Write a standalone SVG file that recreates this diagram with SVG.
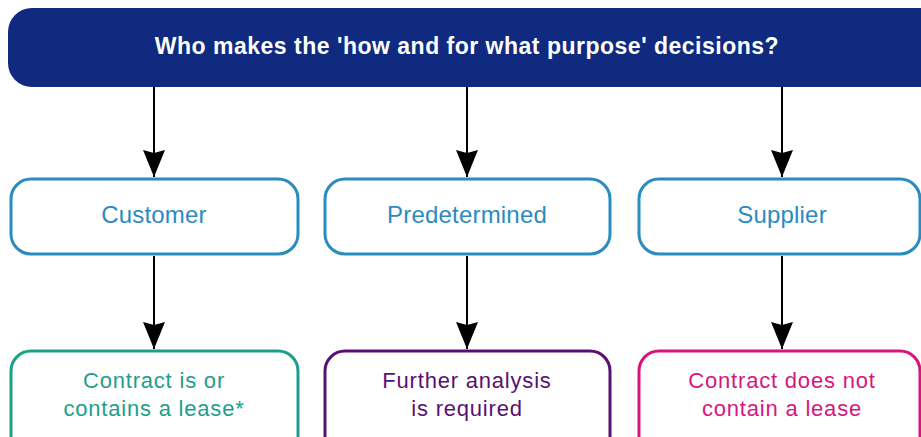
<svg xmlns="http://www.w3.org/2000/svg" width="921" height="437" viewBox="0 0 921 437">
<defs>
<marker id="ah" markerUnits="userSpaceOnUse" markerWidth="30" markerHeight="24" viewBox="-28 -12 30 24" refX="0" refY="0" orient="auto">
<path d="M0,0 L-27,-11 L-24,0 L-27,11 Z" fill="#000"/>
</marker>
<style>
.t{font-family:"Liberation Sans",Arial,sans-serif;text-anchor:middle}
.h{fill:#fff;font-weight:bold;font-size:23px;letter-spacing:0.5px}
.mid{fill:#fff;stroke:#2A8BC0;stroke-width:3}
.mt{fill:#2A8BC0;font-size:24px;letter-spacing:0.2px}
.bt{font-size:22px;letter-spacing:0.8px}
.c{stroke:#000;stroke-width:2;fill:none;marker-end:url(#ah)}
</style>
</defs>
<g id="title">
<rect x="8" y="8" width="940" height="79" rx="24" fill="#0F2A7F"/>
<text class="t h" x="467" y="54">Who makes the 'how and for what purpose' decisions?</text>
</g>
<g id="connectors">
<line class="c" x1="154" y1="87" x2="154" y2="177"/>
<line class="c" x1="467" y1="87" x2="467" y2="177"/>
<line class="c" x1="782" y1="87" x2="782" y2="177"/>
<line class="c" x1="154" y1="256" x2="154" y2="349"/>
<line class="c" x1="467" y1="256" x2="467" y2="349"/>
<line class="c" x1="782" y1="256" x2="782" y2="349"/>
</g>
<g id="customer">
<rect class="mid" x="11" y="179" width="287" height="75" rx="20"/>
<text class="t mt" x="154" y="223">Customer</text>
</g>
<g id="predetermined">
<rect class="mid" x="325" y="179" width="285" height="75" rx="20"/>
<text class="t mt" x="467" y="223">Predetermined</text>
</g>
<g id="supplier">
<rect class="mid" x="639" y="179" width="281" height="75" rx="20"/>
<text class="t mt" x="782" y="223">Supplier</text>
</g>
<g id="lease">
<rect x="11" y="351" width="287" height="110" rx="20" fill="#fff" stroke="#1CA08A" stroke-width="3"/>
<text class="t bt" fill="#1CA08A" x="154" y="388">Contract is or</text>
<text class="t bt" fill="#1CA08A" x="154" y="416">contains a lease*</text>
</g>
<g id="further">
<rect x="325" y="351" width="285" height="110" rx="20" fill="#fff" stroke="#5A1072" stroke-width="3"/>
<text class="t bt" fill="#5A1072" x="467" y="388">Further analysis</text>
<text class="t bt" fill="#5A1072" x="467" y="416">is required</text>
</g>
<g id="nolease">
<rect x="639" y="351" width="281" height="110" rx="20" fill="#fff" stroke="#D6167F" stroke-width="3"/>
<text class="t bt" fill="#D6167F" x="782" y="388">Contract does not</text>
<text class="t bt" fill="#D6167F" x="782" y="416">contain a lease</text>
</g>
</svg>
